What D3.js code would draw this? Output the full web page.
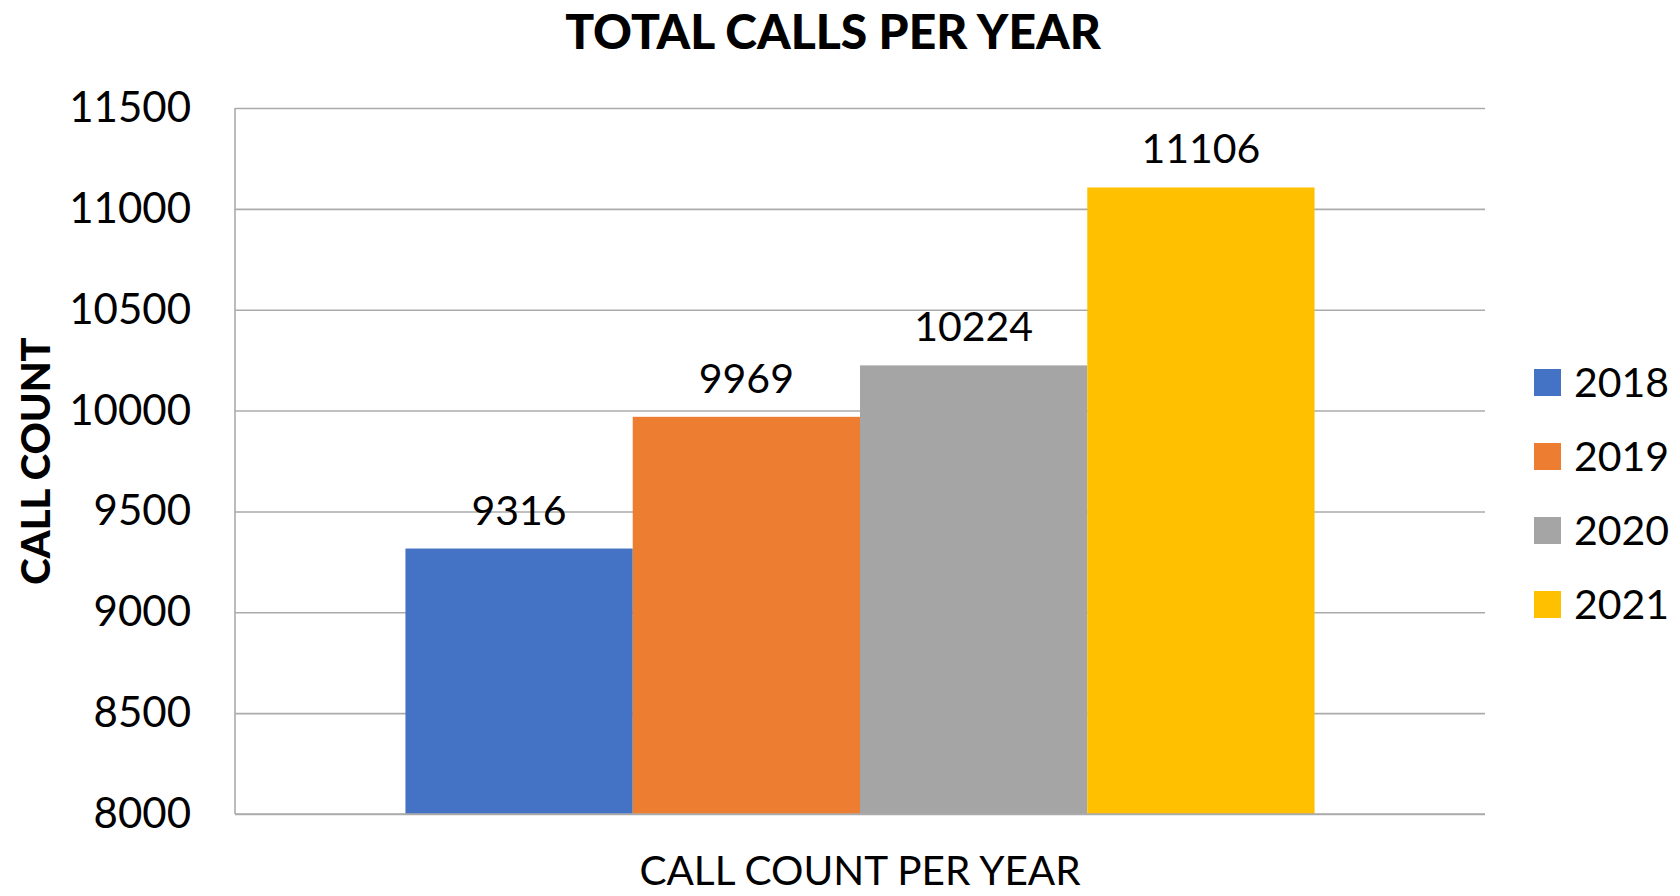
<!DOCTYPE html>
<html><head><meta charset="utf-8">
<script src="https://cdn.jsdelivr.net/npm/d3@7"></script>
<style>
html,body{margin:0;padding:0;background:#fff;}
svg{display:block;}
text{font-family:Lato,"Open Sans",sans-serif;fill:#000;}
</style></head>
<body>
<svg id="chart" width="1680" height="896"></svg>
<script>
const category = ["CALL COUNT PER YEAR"];
const series = ["2018", "2019", "2020", "2021"];
const values = [9316, 9969, 10224, 11106];
const colors = ["#4472C4", "#ED7D31", "#A5A5A5", "#FFC000"];
const yTicks = [8000, 8500, 9000, 9500, 10000, 10500, 11000, 11500];
const title = "TOTAL CALLS PER YEAR";
const yTitle = "CALL COUNT";

const svg = d3.select("#chart");
const L = 235, R = 1485, T = 108, B = 814;

const y = d3.scaleLinear().domain([8000, 11500]).range([B, T]);
const x0 = d3.scaleBand().domain(category).range([L, R]).paddingInner(0).paddingOuter(0.1875);
const x1 = d3.scaleBand().domain(series).range([0, x0.bandwidth()]).padding(0);
const color = d3.scaleOrdinal().domain(series).range(colors);

// gridlines
const grid = svg.append("g").attr("transform", `translate(${L},0)`)
  .call(d3.axisLeft(y).tickValues(yTicks).tickSize(-(R - L)).tickFormat(""));
grid.select(".domain").remove();
grid.selectAll("line").attr("stroke", "#ababab").attr("stroke-width", 1.6);

// bars
const g = svg.append("g").attr("transform", `translate(${x0(category[0])},0)`);
g.selectAll("rect").data(series).join("rect")
  .attr("x", d => x1(d))
  .attr("width", x1.bandwidth())
  .attr("y", (d, i) => y(values[i]))
  .attr("height", (d, i) => y(8000) - y(values[i]))
  .attr("fill", d => color(d));

// data labels
g.selectAll("text.lbl").data(series).join("text").attr("class", "lbl")
  .attr("x", d => x1(d) + x1.bandwidth() / 2)
  .attr("y", (d, i) => y(values[i]) - 24)
  .attr("text-anchor", "middle")
  .style("font-size", "41px")
  .text((d, i) => values[i]);

// left axis line and bottom axis
svg.append("line").attr("x1", L).attr("x2", L).attr("y1", T).attr("y2", B)
  .attr("stroke", "#ababab").attr("stroke-width", 1.6);
svg.append("line").attr("x1", L).attr("x2", R).attr("y1", B).attr("y2", B)
  .attr("stroke", "#ababab").attr("stroke-width", 1.6);

// y tick labels
const ya = svg.append("g").attr("transform", `translate(${L},0)`)
  .call(d3.axisLeft(y).tickValues(yTicks).tickSize(0).tickPadding(44).tickFormat(d3.format("d")));
ya.select(".domain").remove();
ya.selectAll("text").style("font-size", "42px").style("font-family", "Lato,'Open Sans',sans-serif").attr("fill", "#000");

// x axis category label
const xa = svg.append("g").attr("transform", `translate(0,${B})`)
  .call(d3.axisBottom(x0).tickSize(0).tickPadding(42));
xa.select(".domain").remove();
xa.selectAll("text").style("font-size", "40.5px").style("font-family", "Lato,'Open Sans',sans-serif").attr("fill", "#000");

// title
svg.append("text").attr("x", 833).attr("y", 49).attr("text-anchor", "middle")
  .style("font-size", "48px").style("font-weight", "900").text(title);

// y title
svg.append("text").attr("transform", `translate(50,${(T + B) / 2}) rotate(-90)`)
  .attr("text-anchor", "middle").style("font-size", "40px").style("font-weight", "900").text(yTitle);

// legend
const leg = svg.append("g").attr("transform", "translate(1534,369)");
const items = leg.selectAll("g").data(series).join("g").attr("transform", (d, i) => `translate(0,${i * 74})`);
items.append("rect").attr("width", 27).attr("height", 27).attr("fill", d => color(d));
items.append("text").attr("x", 40).attr("y", 13.5).attr("dy", "0.36em")
  .style("font-size", "41px").text(d => d);
</script>
</body></html>
